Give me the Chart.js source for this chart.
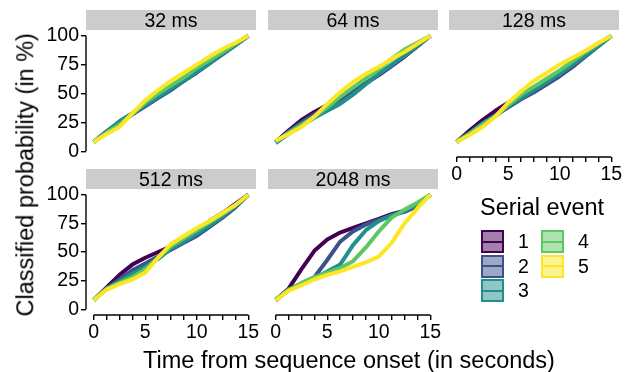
<!DOCTYPE html>
<html>
<head>
<meta charset="utf-8">
<script src="https://cdn.jsdelivr.net/npm/chart.js@4.4.1/dist/chart.umd.min.js"></script>
<style>
  body { margin: 0; background: #fff; font-family: "Liberation Sans", Arial, sans-serif; color: #000; }
  #wrap { position: relative; width: 631px; height: 372px; overflow: hidden; }
  #wrap canvas { position: absolute; left: 0; top: 0; }
  .strip { position: absolute; height: 20px; background: #cccccc; text-align: center; line-height: 20px; font-size: 19.5px; }
  .title { position: absolute; font-size: 23.5px; line-height: 23.5px; white-space: nowrap; }
  .key { position: absolute; width: 19px; height: 19px; border: 2px solid; }
  .key span { position: absolute; left: 0; right: 0; top: 8.5px; height: 2px; }
  .keylab { position: absolute; font-size: 19.5px; line-height: 23px; }
</style>
</head>
<body>
<div id="wrap">
  <canvas id="c32" width="631" height="372"></canvas>
  <canvas id="c64" width="631" height="372"></canvas>
  <canvas id="c128" width="631" height="372"></canvas>
  <canvas id="c512" width="631" height="372"></canvas>
  <canvas id="c2048" width="631" height="372"></canvas>
  <div id="labels"></div>
</div>
<script>
// Data
const timePoints = [0, 1.25, 2.5, 3.75, 5, 6.25, 7.5, 8.75, 10, 11.25, 12.5, 13.75, 15];
const xTickLabels = [0, 5, 10, 15];
const yTickLabels = [0, 25, 50, 75, 100];
const eventLabels = ['1', '2', '3', '4', '5'];
const eventColors = ['#440154', '#3B528B', '#21908C', '#5DC863', '#FDE725'];
const panelTitles = ['32 ms', '64 ms', '128 ms', '512 ms', '2048 ms'];

// one row per serial event (1..5)
const prob32 = [
  [8, 17, 25, 32, 40, 47, 54, 61, 69, 77, 84, 92, 100],
  [8, 17, 25, 32, 39, 46, 53, 61, 68, 76, 84, 92, 100],
  [8, 17, 26, 33, 40, 47, 54, 61, 69, 76, 84, 92, 100],
  [8, 16, 23, 32, 42, 50, 57, 64, 72, 79, 86, 93, 100],
  [8, 15, 21, 33, 44, 53, 61, 68, 75, 82, 88.5, 94, 100]
];
const prob64 = [
  [8, 18, 27, 34, 40, 46, 52, 59, 66, 74, 82, 91, 100],
  [8, 17, 25, 32, 38, 45, 52, 59, 66, 74, 82, 91, 100],
  [7, 15, 22, 29, 35, 41, 49, 58, 67, 75, 83, 91, 100],
  [8, 16, 23, 30, 38, 47, 55, 63, 71, 80, 88, 94, 100],
  [9, 15, 21, 30, 41, 51, 60, 67, 73, 80, 86, 93, 100]
];
const prob128 = [
  [8, 18, 27, 35, 42, 48, 55, 62, 69, 76, 84, 92, 100],
  [8, 16, 24, 31, 38, 45, 51, 58, 65, 73, 82, 91, 100],
  [8, 16, 24, 31, 39, 46, 53, 60, 67, 75, 83, 91, 100],
  [8, 15, 23, 30, 40, 49, 56, 63, 70, 78, 86, 93, 100],
  [8, 14, 21, 30, 42, 52, 61, 68, 75, 81, 87, 94, 100]
];
const prob512 = [
  [8, 19, 30, 39, 45, 50, 55, 62, 69, 77, 84, 92, 100],
  [8, 18, 26, 34, 40, 46, 52, 58, 64, 72, 80, 89, 100],
  [8, 18, 24, 31, 37, 44, 53, 59, 66, 73, 81, 90, 100],
  [8, 18, 23, 28, 35, 45, 55, 62, 69, 76, 83, 91, 100],
  [8, 17, 22, 26, 32, 45, 57, 64, 71, 77, 84, 91, 100]
];
const prob2048 = [
  [8, 18, 35, 51, 61, 67, 71, 75, 79, 83, 86, 91, 100],
  [8, 17, 22, 28, 43, 59, 68, 74, 78, 82, 85, 90, 100],
  [8, 17, 22, 27, 33, 39, 56, 69, 77, 82, 86, 91, 100],
  [8, 17, 23, 28, 32, 36, 42, 54, 68, 80, 87, 93, 100],
  [8, 16, 21, 26, 30, 33, 37, 41, 46, 58, 75, 88, 100]
];

// Layout (panel = chart area)
const W = 631, H = 372;
const Y_AXIS_W = 40, X_AXIS_H = 30;
const tickFont = { family: "'Liberation Sans', Arial, sans-serif", size: 19.5 };

const panels = [
  { id: 'c32',   data: prob32,   left: 86,  right: 256, top: 30,  bottom: 157, showX: false, showY: true },
  { id: 'c64',   data: prob64,   left: 268, right: 438, top: 30,  bottom: 157, showX: false, showY: false },
  { id: 'c128',  data: prob128,  left: 449, right: 619, top: 30,  bottom: 157, showX: true,  showY: false },
  { id: 'c512',  data: prob512,  left: 86,  right: 256, top: 189, bottom: 315, showX: true,  showY: true },
  { id: 'c2048', data: prob2048, left: 268, right: 438, top: 189, bottom: 315, showX: true,  showY: false }
];

// axis lines only over the data range (0..15, 0..100)
const cappedAxes = {
  id: 'cappedAxes',
  beforeDatasetsDraw(chart, args, opts) {
    const { ctx, chartArea, scales } = chart;
    ctx.save();
    ctx.strokeStyle = '#000';
    ctx.lineWidth = 1.4;
    ctx.beginPath();
    if (opts.showY) {
      ctx.moveTo(chartArea.left, scales.y.getPixelForValue(0));
      ctx.lineTo(chartArea.left, scales.y.getPixelForValue(100));
    }
    if (opts.showX) {
      ctx.moveTo(scales.x.getPixelForValue(0), chartArea.bottom);
      ctx.lineTo(scales.x.getPixelForValue(15), chartArea.bottom);
    }
    ctx.stroke();
    ctx.restore();
  }
};

function makePanel(p) {
  const datasets = p.data.map((vals, i) => ({
    label: eventLabels[i],
    data: vals.map((v, j) => ({ x: timePoints[j], y: v })),
    borderColor: eventColors[i],
    borderWidth: 4,
    borderJoinStyle: 'round',
    pointRadius: 0,
    tension: 0,
    fill: false,
    order: p.data.length - i
  }));

  new Chart(document.getElementById(p.id), {
    type: 'line',
    data: { datasets: datasets },
    options: {
      responsive: false,
      animation: false,
      devicePixelRatio: 1,
      layout: {
        padding: {
          left: p.showY ? p.left - Y_AXIS_W : p.left,
          top: p.top,
          right: W - p.right,
          bottom: p.showX ? H - p.bottom - X_AXIS_H : H - p.bottom
        }
      },
      plugins: {
        legend: { display: false },
        tooltip: { enabled: false },
        cappedAxes: { showX: p.showX, showY: p.showY }
      },
      scales: {
        x: {
          type: 'linear',
          min: -0.75,
          max: 15.75,
          display: p.showX,
          afterBuildTicks: s => { s.ticks = timePoints.map(v => ({ value: v })); },
          afterFit: s => { s.height = p.showX ? X_AXIS_H : 0; },
          ticks: {
            autoSkip: false,
            maxRotation: 0,
            padding: 1,
            color: '#000',
            font: tickFont,
            callback: v => xTickLabels.includes(v) ? String(v) : ''
          },
          grid: { drawOnChartArea: false, drawTicks: true, tickLength: 5, color: '#000', lineWidth: 1.4 },
          border: { display: false }
        },
        y: {
          type: 'linear',
          min: -5,
          max: 105,
          display: p.showY,
          afterBuildTicks: s => { s.ticks = yTickLabels.map(v => ({ value: v })); },
          afterFit: s => { s.width = p.showY ? Y_AXIS_W : 0; },
          ticks: { autoSkip: false, padding: 2, color: '#000', font: tickFont },
          grid: { drawOnChartArea: false, drawTicks: true, tickLength: 5, color: '#000', lineWidth: 1.4 },
          border: { display: false }
        }
      }
    },
    plugins: [cappedAxes]
  });
}

panels.forEach(makePanel);

// strips, axis titles, legend
const labels = document.getElementById('labels');
function addDiv(cls, text, style) {
  const d = document.createElement('div');
  d.className = cls;
  if (text !== null) d.textContent = text;
  Object.assign(d.style, style);
  labels.appendChild(d);
  return d;
}

panels.forEach((p, i) => {
  addDiv('strip', panelTitles[i], { left: p.left + 'px', top: (p.top - 20) + 'px', width: (p.right - p.left) + 'px' });
});

addDiv('title', 'Time from sequence onset (in seconds)', { left: '129px', top: '349px', width: '440px', textAlign: 'center' });
addDiv('title', 'Classified probability (in %)', {
  left: (25.5 - 170) + 'px', top: (174.5 - 11.75) + 'px', width: '340px', textAlign: 'center', transform: 'rotate(-90deg)'
});
addDiv('title', 'Serial event', { left: '480px', top: '196px' });

function hexToRgba(hex, a) {
  const n = parseInt(hex.slice(1), 16);
  return 'rgba(' + (n >> 16) + ',' + ((n >> 8) & 255) + ',' + (n & 255) + ',' + a + ')';
}

const keyPos = [[481, 230], [481, 254.5], [481, 279], [541, 230], [541, 254.5]];
eventLabels.forEach((lab, i) => {
  const [kx, ky] = keyPos[i];
  const k = addDiv('key', null, { left: kx + 'px', top: ky + 'px', borderColor: eventColors[i], background: hexToRgba(eventColors[i], 0.5) });
  const line = document.createElement('span');
  line.style.background = eventColors[i];
  k.appendChild(line);
  addDiv('keylab', lab, { left: (kx + 37) + 'px', top: ky + 'px' });
});
</script>
</body>
</html>
